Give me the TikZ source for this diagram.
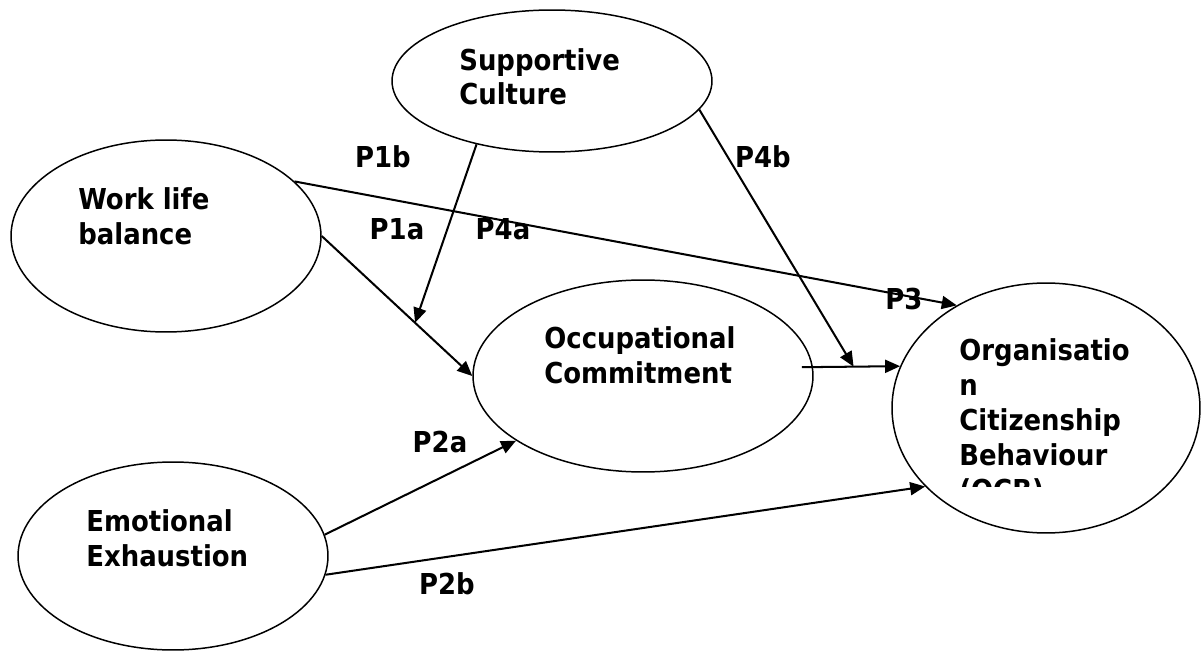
\documentclass[tikz,border=0pt]{standalone}
\usepackage{fontspec}
\setmainfont{DejaVu Sans Condensed}
\usepackage{tikz}
\usetikzlibrary{shapes,arrows.meta,positioning}

\begin{document}
\begin{tikzpicture}[
    x=0.02cm, y=-0.02cm,
    construct/.style={ellipse, draw=black, line width=0.85pt, inner sep=0pt},
    ctext/.style={anchor=base west, align=left, inner sep=0pt,
                  font=\bfseries\fontsize{16.4}{0.7cm}\selectfont},
    plabel/.style={inner sep=0pt, font=\bfseries\fontsize{16.4}{20}\selectfont},
    arrow/.style={-{Triangle[length=0.3cm,width=0.26cm]}, line width=1.15pt}
]
    \useasboundingbox (0,0) rectangle (1201,652);

    % Supportive Culture (top)
    \node[construct, minimum width=6.4cm, minimum height=2.84cm] (sc) at (552,81) {};
    \node[ctext] (sc-txt) at (459,105) {Supportive\\Culture};

    % Work life balance (left)
    \node[construct, minimum width=6.2cm, minimum height=3.84cm] (wlb) at (166,236) {};
    \node[ctext] (wlb-txt) at (78,244) {Work life\\balance};

    % Occupational Commitment (center)
    \node[construct, minimum width=6.8cm, minimum height=3.84cm] (oc) at (643,376) {};
    \node[ctext] (oc-txt) at (544,383) {Occupational\\Commitment};

    % Emotional Exhaustion (bottom left)
    \node[construct, minimum width=6.2cm, minimum height=3.76cm] (ee) at (173,556) {};
    \node[ctext] (ee-txt) at (86,566) {Emotional\\Exhaustion};

    % OCB (right), last line cut off by the box
    \node[construct, minimum width=6.16cm, minimum height=5cm] (ocb) at (1046,408) {};
    \begin{scope}
        \clip (900,300) rectangle (1190,486);
        \node[ctext] (ocb-txt) at (959,500)
            {Organisatio\\n\\Citizenship\\Behaviour\\(OCB)};
    \end{scope}

    % Direct paths
    \draw[arrow] (wlb.east) -- coordinate[pos=0.62] (m1) (oc.west);
    \draw[arrow] (wlb.23) -- (ocb.131);
    \draw[arrow, shorten <=-0.22cm] (oc.3) -- coordinate[pos=0.466] (m2) (ocb.164);
    \draw[arrow] (ee.8) -- (oc.207);
    \draw[arrow] (ee.-7) -- (ocb.213);

    % Moderating paths
    \draw[arrow] (sc.220) -- (m1);
    \draw[arrow] (sc.-11) -- (m2);

    % Path labels
    \node[plabel] (p1b) at (383,157) {P1b};
    \node[plabel] (p1a) at (397,229) {P1a};
    \node[plabel] (p4a) at (503,229) {P4a};
    \node[plabel] (p4b) at (763,157) {P4b};
    \node[plabel] (p3)  at (904,299) {P3};
    \node[plabel] (p2a) at (440,442) {P2a};
    \node[plabel] (p2b) at (447,584) {P2b};
\end{tikzpicture}
\end{document}
